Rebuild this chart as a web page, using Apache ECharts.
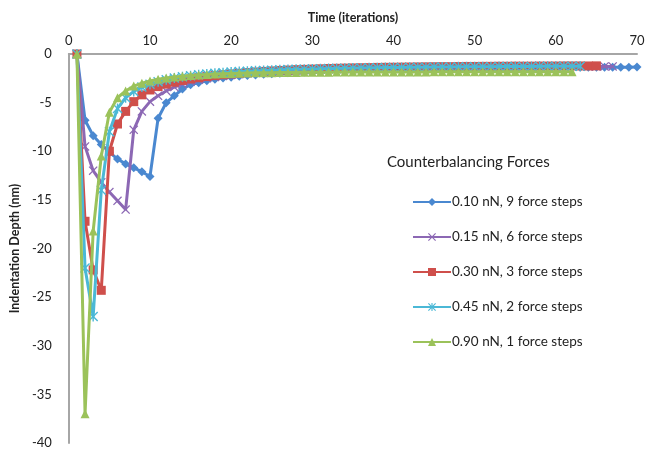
<!DOCTYPE html>
<html>
<head>
<meta charset="utf-8">
<script src="https://cdn.jsdelivr.net/npm/echarts@6/dist/echarts.min.js"></script>
<style>
  html, body { margin: 0; padding: 0; background: #fff; }
  #chart { width: 649px; height: 451px; }
</style>
</head>
<body>
<div id="chart"></div>
<script>
// 各系列：第1次迭代开始，每个数值对应一次迭代
var seriesNames = [
  '0.10 nN, 9 force steps',
  '0.15 nN, 6 force steps',
  '0.30 nN, 3 force steps',
  '0.45 nN, 2 force steps',
  '0.90 nN, 1 force steps'
];
var xTicks = [0, 10, 20, 30, 40, 50, 60, 70];
var yTicks = [-40, -35, -30, -25, -20, -15, -10, -5, 0];

var blueVals = [
  0, -6.8, -8.4, -9.3, -10.1, -10.8, -11.3, -11.7, -12.1, -12.6,
  -6.6, -5.0, -4.3, -3.6, -3.15, -2.95, -2.75, -2.6, -2.48, -2.38,
  -2.3, -2.22, -2.15, -2.09, -2.03, -1.98, -1.93, -1.89, -1.85, -1.81,
  -1.78, -1.75, -1.72, -1.69, -1.67, -1.65, -1.63, -1.61, -1.59, -1.57,
  -1.56, -1.54, -1.53, -1.52, -1.5, -1.49, -1.48, -1.47, -1.46, -1.45,
  -1.44, -1.43, -1.42, -1.42, -1.41, -1.4, -1.4, -1.39, -1.39, -1.38,
  -1.38, -1.37, -1.37, -1.36, -1.36, -1.36, -1.35, -1.35, -1.35, -1.34
];
var purpleVals = [
  0, -9.5, -12, -13.2, -14.2, -15.1, -16, -7.8, -5.9, -4.9,
  -4.3, -3.8, -3.4, -3.1, -2.85, -2.65, -2.5, -2.37, -2.26, -2.16,
  -2.08, -2.0, -1.94, -1.88, -1.83, -1.78, -1.74, -1.7, -1.66, -1.63,
  -1.6, -1.57, -1.55, -1.53, -1.51, -1.49, -1.47, -1.46, -1.44, -1.43,
  -1.42, -1.41, -1.4, -1.39, -1.38, -1.37, -1.36, -1.36, -1.35, -1.34,
  -1.34, -1.33, -1.33, -1.32, -1.32, -1.31, -1.31, -1.31, -1.3, -1.3,
  -1.3, -1.29, -1.29, -1.29, -1.29, -1.28, -1.28
];
var redVals = [
  0, -17.2, -22.2, -24.3, -10.0, -7.2, -5.9, -4.9, -4.2, -3.7,
  -3.35, -3.1, -2.9, -2.72, -2.57, -2.44, -2.32, -2.22, -2.13, -2.05,
  -1.98, -1.91, -1.85, -1.79, -1.74, -1.69, -1.65, -1.61, -1.58, -1.55,
  -1.52, -1.49, -1.47, -1.45, -1.43, -1.41, -1.4, -1.38, -1.37, -1.36,
  -1.35, -1.34, -1.33, -1.32, -1.31, -1.3, -1.3, -1.29, -1.28, -1.28,
  -1.27, -1.27, -1.26, -1.26, -1.25, -1.25, -1.25, -1.24, -1.24, -1.24,
  -1.23, -1.23, -1.23, -1.23, -1.22
];
var cyanVals = [
  0, -22, -27, -14, -8, -5.6, -4.5, -3.85, -3.4, -3.1,
  -2.85, -2.65, -2.48, -2.35, -2.23, -2.13, -2.05, -1.98, -1.92, -1.86,
  -1.81, -1.77, -1.73, -1.69, -1.66, -1.63, -1.6, -1.58, -1.56, -1.54,
  -1.52, -1.5, -1.48, -1.46, -1.45, -1.43, -1.42, -1.41, -1.4, -1.39,
  -1.38, -1.37, -1.36, -1.35, -1.34, -1.33, -1.33, -1.32, -1.31, -1.31,
  -1.3, -1.3, -1.29, -1.29, -1.28, -1.28, -1.28, -1.27, -1.27, -1.27,
  -1.26, -1.26, -1.26
];
var greenVals = [
  0, -37, -18.2, -10.5, -6.0, -4.5, -3.8, -3.3, -3.0, -2.78,
  -2.6, -2.47, -2.37, -2.28, -2.21, -2.15, -2.1, -2.06, -2.03, -2.0,
  -1.98, -1.96, -1.94, -1.93, -1.92, -1.91, -1.9, -1.89, -1.88, -1.88,
  -1.87, -1.87, -1.86, -1.86, -1.86, -1.85, -1.85, -1.85, -1.85, -1.84,
  -1.84, -1.84, -1.84, -1.84, -1.83, -1.83, -1.83, -1.83, -1.83, -1.83,
  -1.82, -1.82, -1.82, -1.82, -1.82, -1.82, -1.82, -1.82, -1.82, -1.82,
  -1.82, -1.82
];

var colors = ['#4a88d0', '#8c68b4', '#cf4f4b', '#4bb8d6', '#9bc25a'];
var xMark = 'path://M1,0 L5,4 L9,0 L10,1 L6,5 L10,9 L9,10 L5,6 L1,10 L0,9 L4,5 L0,1 Z';
var starMark = 'path://M1,0 L4.3,3.3 L4.3,0 L5.7,0 L5.7,3.3 L9,0 L10,1 L6,5 L10,9 L9,10 L5.7,6.7 L5.7,10 L4.3,10 L4.3,6.7 L1,10 L0,9 L4,5 L0,1 Z';
var symbols = ['diamond', xMark, 'rect', starMark, 'triangle'];
var symbolSizes = [9, 9, 9, 10, 9];

function toPoints(vals) {
  return vals.map(function (v, i) {
    return [i + 1, v];
  });
}

var allVals = [blueVals, purpleVals, redVals, cyanVals, greenVals];
var series = [];
for (var i = 0; i < allVals.length; i++) {
  series.push({
    name: seriesNames[i],
    type: 'line',
    data: toPoints(allVals[i]),
    symbol: symbols[i],
    symbolSize: symbolSizes[i],
    showAllSymbol: true,
    z: 2 + i,
    lineStyle: { width: 3, color: colors[i] },
    itemStyle: { color: colors[i] }
  });
}

var font = 'Lato, "Open Sans", sans-serif';
var chart = echarts.init(document.getElementById('chart'));
chart.setOption({
  animation: false,
  textStyle: { fontFamily: font },
  title: {
    text: 'Counterbalancing Forces',
    left: 382,
    top: 150,
    textStyle: { fontSize: 15, fontWeight: 'normal', color: '#222', fontFamily: font }
  },
  legend: {
    orient: 'vertical',
    left: 407,
    top: 190,
    itemWidth: 38,
    itemHeight: 10,
    itemGap: 21,
    data: seriesNames,
    textStyle: { fontSize: 13.5, color: '#222', fontFamily: font, padding: [0, 0, 0, -4] }
  },
  grid: { left: 64, right: 12, top: 54, bottom: 8, containLabel: false },
  xAxis: {
    type: 'value',
    position: 'top',
    min: xTicks[0],
    max: xTicks[xTicks.length - 1],
    interval: 10,
    name: 'Time (iterations)',
    nameLocation: 'middle',
    nameGap: 30,
    nameTextStyle: { fontWeight: 'bold', fontSize: 12.5, color: '#222' },
    axisLine: { onZero: false, lineStyle: { color: '#a6a6a6', width: 2 } },
    axisTick: { show: false },
    splitLine: { show: false },
    axisLabel: { fontSize: 13, color: '#222', margin: 7 }
  },
  yAxis: {
    type: 'value',
    min: yTicks[0],
    max: yTicks[yTicks.length - 1],
    interval: 5,
    name: 'Indentation Depth (nm)',
    nameLocation: 'middle',
    nameGap: 46,
    nameRotate: 90,
    nameTextStyle: { fontWeight: 'bold', fontSize: 12.5, color: '#222' },
    axisLine: { show: true, lineStyle: { color: '#a6a6a6', width: 2 } },
    axisTick: { show: false },
    splitLine: { show: false },
    axisLabel: { fontSize: 13, color: '#222', margin: 17 }
  },
  series: series
});
</script>
</body>
</html>
